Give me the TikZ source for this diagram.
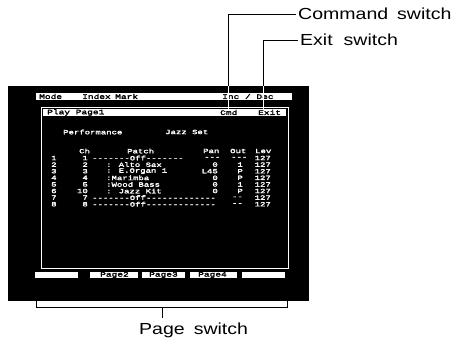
\documentclass[tikz,border=0pt]{standalone}
\usepackage{fontspec}
\setmainfont{Liberation Sans}
\newfontfamily\lblfont[FakeStretch=1.22]{Liberation Sans}
\newfontfamily\scrfont[FakeStretch=1.4,FakeBold=2.5]{Liberation Mono}
\tikzset{
  lbl/.style={font=\lblfont\fontsize{16}{18}\selectfont, anchor=west, inner sep=0pt},
  scr/.style={font=\scrfont\fontsize{6.4}{7}\selectfont, text=white, inner sep=0pt},
  scrl/.style={scr, anchor=west},
  scrr/.style={scr, anchor=east},
  bartext/.style={font=\scrfont\fontsize{6.8}{7}\selectfont, text=black, inner sep=0pt, anchor=west},
  wbar/.style={fill=white, draw=none, inner sep=0pt, anchor=north west},
  lead/.style={line width=0.8pt},
}
\begin{document}
\begin{tikzpicture}[x=1pt,y=-1pt]
  \useasboundingbox[fill=white] (0,0) rectangle (461,344);

  % monitor screen
  \node[fill=black, inner sep=0pt, anchor=north west, minimum width=301pt, minimum height=215pt] (screen) at (8,86) {};

  % top menu bar
  \node[wbar, minimum width=256pt, minimum height=7pt] (menubar) at (36,93) {};
  \node[bartext] (mode)  at (39,96.5) {Mode};
  \node[bartext] (index) at (82,96.5) {Index};
  \node[bartext] (mark)  at (115,96.5) {Mark};
  \node[bartext] (incdec) at (222,96.5) {Inc / Dec};

  % play page window
  \node[draw=white, line width=0.8pt, inner sep=0pt, anchor=north west, minimum width=247pt, minimum height=161pt] (win) at (41,107) {};
  \node[wbar, minimum width=243pt, minimum height=7pt] (titlebar) at (43,109) {};
  \node[bartext] (play) at (47,112.5) {Play Page1};
  \node[bartext] (cmd)  at (220,112.5) {Cmd};
  \node[bartext] (exit) at (258,112.5) {Exit};

  % page contents
  \node[scrl] (perf) at (63,132) {Performance};
  \node[scrl] (set)  at (165,132) {Jazz Set};

  \node[scrl] (hch)  at (79,151) {Ch};
  \node[scrl] (hpat) at (127,151) {Patch};
  \node[scrl] (hpan) at (203,151) {Pan};
  \node[scrl] (hout) at (230,151) {Out};
  \node[scrl] (hlev) at (255,151) {Lev};

  % parts 1-8
  \foreach \n/\ch/\yy in {1/1/158,2/2/164.6,3/3/171.2,4/4/177.8,5/5/184.4,6/10/191,7/7/197.6,8/8/204.2}{
    \node[scrl] (num\n) at (51,\yy) {\n};
    \node[scrr] (ch\n)  at (88,\yy) {\ch};
    \node[scrr] (lev\n) at (271,\yy) {127};
  }
  \node[scrl] (pat1) at (92,158) {-------Off-------};
  \node[scrl] (pan1) at (204,158) {---};
  \node[scrl] (out1) at (231,158) {---};

  \node[scrl] (pat2) at (106,164.6) {: Alto Sax};
  \node[scrr] (pan2) at (218,164.6) {0};
  \node[scrr] (out2) at (243,164.6) {1};

  \node[scrl] (pat3) at (106,171.2) {: E.Organ 1};
  \node[scrr] (pan3) at (218,171.2) {L45};
  \node[scrr] (out3) at (243,171.2) {P};

  \node[scrl] (pat4) at (106,177.8) {:Marimba};
  \node[scrr] (pan4) at (218,177.8) {0};
  \node[scrr] (out4) at (243,177.8) {P};

  \node[scrl] (pat5) at (106,184.4) {:Wood Bass};
  \node[scrr] (pan5) at (218,184.4) {0};
  \node[scrr] (out5) at (243,184.4) {1};

  \node[scrl] (pat6) at (106,191) {: Jazz Kit};
  \node[scrr] (pan6) at (218,191) {0};
  \node[scrr] (out6) at (243,191) {P};

  \node[scrl] (pat7) at (92,197.6) {-------Off-------------};
  \node[scrr] (out7) at (243,197.6) {--};
  \node[scrl] (pat8) at (92,204.2) {-------Off-------------};
  \node[scrr] (out8) at (243,204.2) {--};

  % page switches
  \node[wbar, minimum width=43pt, minimum height=6pt] (pg1) at (35,272) {};
  \node[wbar, minimum width=48pt, minimum height=6pt] (pg2) at (90,272) {};
  \node[wbar, minimum width=43pt, minimum height=6pt] (pg3) at (142,272) {};
  \node[wbar, minimum width=47pt, minimum height=6pt] (pg4) at (190,272) {};
  \node[wbar, minimum width=43pt, minimum height=6pt] (pg5) at (242,272) {};
  \node[bartext] at (100,275) {Page2};
  \node[bartext] at (149,275) {Page3};
  \node[bartext] at (198,275) {Page4};

  % callout labels
  \node[lbl] (cmdlbl)  at (298,14) {Command\hspace{9pt}switch};
  \node[lbl] (exitlbl) at (300,40) {Exit\hspace{11pt}switch};
  \node[lbl] (pglbl)   at (139,330) {Page\hspace{9pt}switch};

  % leader lines to the switches
  \coordinate (cmdtop)  at (228,86);
  \coordinate (cmdend)  at (228,109);
  \coordinate (exittop) at (263,86);
  \coordinate (exitend) at (263,109);
  \draw[lead] ([xshift=-2pt]cmdlbl.west) -| (cmdtop);
  \draw[lead, white] (cmdtop) -- (cmdend);
  \draw[lead] ([xshift=-2pt]exitlbl.west) -| (exittop);
  \draw[lead, white] (exittop) -- (exitend);

  % bracket over the page switches
  \coordinate (brl) at (36,301);
  \coordinate (brr) at (287,301);
  \coordinate (tick) at (162,307);
  \coordinate (tickend) at (162,318);
  \draw[lead] (brl) -- ++(0,6) -| (brr);
  \draw[lead] (tick) -- (tickend);
\end{tikzpicture}
\end{document}
